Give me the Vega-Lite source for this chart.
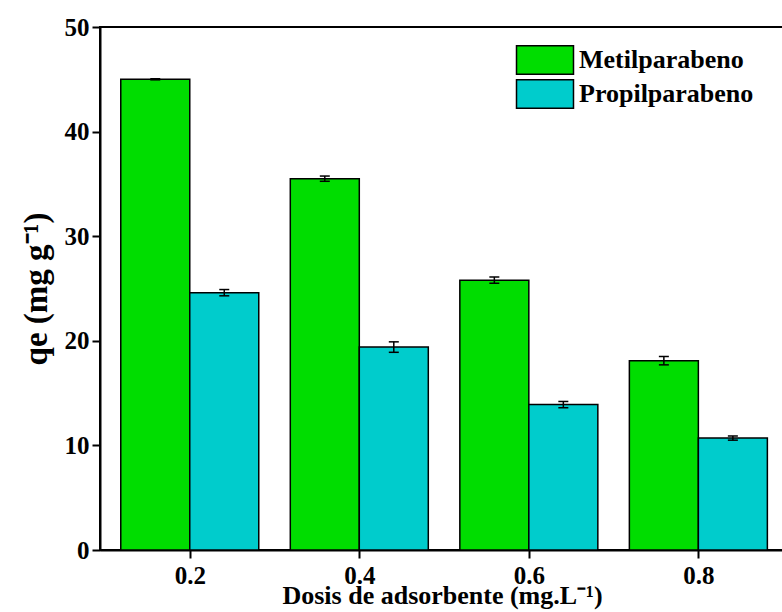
{
  "$schema": "https://vega.github.io/schema/vega-lite/v6.json",
  "width": 700,
  "height": 523,
  "autosize": {"type": "none"},
  "padding": {"left": 100, "top": 27, "right": 0, "bottom": 62},
  "background": "white",
  "config": {
    "font": "Liberation Serif",
    "view": {"stroke": "black", "strokeWidth": 2},
    "axis": {
      "grid": false,
      "domainColor": "black",
      "domainWidth": 2,
      "tickColor": "black",
      "tickWidth": 2,
      "tickSize": 8,
      "labelFont": "Liberation Serif",
      "labelFontSize": 25,
      "labelFontWeight": "bold",
      "labelColor": "black",
      "titleFont": "Liberation Serif",
      "titleFontWeight": "bold",
      "titleColor": "black"
    }
  },
  "data": {
    "values": [
      {"dosis": 0.2, "serie": "Metilparabeno", "qe": 45.0, "err": 0.05},
      {"dosis": 0.4, "serie": "Metilparabeno", "qe": 35.5, "err": 0.25},
      {"dosis": 0.6, "serie": "Metilparabeno", "qe": 25.8, "err": 0.3},
      {"dosis": 0.8, "serie": "Metilparabeno", "qe": 18.1, "err": 0.4},
      {"dosis": 0.2, "serie": "Propilparabeno", "qe": 24.6, "err": 0.3},
      {"dosis": 0.4, "serie": "Propilparabeno", "qe": 19.4, "err": 0.5},
      {"dosis": 0.6, "serie": "Propilparabeno", "qe": 13.9, "err": 0.3},
      {"dosis": 0.8, "serie": "Propilparabeno", "qe": 10.7, "err": 0.2}
    ]
  },
  "transform": [
    {"calculate": "datum.qe - datum.err", "as": "lo"},
    {"calculate": "datum.qe + datum.err", "as": "hi"}
  ],
  "encoding": {
    "x": {
      "field": "dosis",
      "type": "quantitative",
      "scale": {"domain": [0.1, 0.914], "nice": false, "zero": false},
      "axis": {
        "values": [0.2, 0.4, 0.6, 0.8],
        "format": ".1f",
        "labelPadding": 5,
        "title": "Dosis de adsorbente (mg.L⁻¹)",
        "titleFontSize": 26,
        "titlePadding": -6,
        "titleX": 342
      }
    },
    "y": {
      "field": "qe",
      "type": "quantitative",
      "scale": {"domain": [0, 50], "nice": false},
      "axis": {
        "values": [0, 10, 20, 30, 40, 50],
        "format": "d",
        "labelPadding": 3,
        "title": "qe (mg g⁻¹)",
        "titleFontSize": 33,
        "titlePadding": 11
      }
    }
  },
  "layer": [
    {
      "transform": [{"filter": "datum.serie === 'Metilparabeno'"}],
      "mark": {"type": "bar", "width": 69, "xOffset": -34.5, "stroke": "black", "strokeWidth": 1.5},
      "encoding": {
        "color": {
          "field": "serie",
          "type": "nominal",
          "scale": {"domain": ["Metilparabeno", "Propilparabeno"], "range": ["#00DD00", "#00CCCC"]},
          "legend": {
            "orient": "none",
            "legendX": 430,
            "legendY": 18,
            "title": null,
            "symbolType": "M-2,-1H2V1H-2Z",
            "symbolSize": 812,
            "symbolStrokeColor": "black",
            "symbolStrokeWidth": 1.5,
            "labelFont": "Liberation Serif",
            "labelFontSize": 26,
            "labelFontWeight": "bold",
            "labelColor": "black",
            "labelLimit": 400,
            "labelOffset": 19,
            "rowPadding": -2
          }
        }
      }
    },
    {
      "transform": [{"filter": "datum.serie === 'Propilparabeno'"}],
      "mark": {"type": "bar", "width": 69, "xOffset": 34.5, "stroke": "black", "strokeWidth": 1.5},
      "encoding": {
        "color": {"field": "serie", "type": "nominal"}
      }
    },
    {
      "transform": [{"filter": "datum.serie === 'Metilparabeno'"}],
      "mark": {"type": "rule", "xOffset": -34.5, "color": "black", "strokeWidth": 1.5},
      "encoding": {"y": {"field": "lo", "type": "quantitative"}, "y2": {"field": "hi"}}
    },
    {
      "transform": [{"filter": "datum.serie === 'Propilparabeno'"}],
      "mark": {"type": "rule", "xOffset": 34.5, "color": "black", "strokeWidth": 1.5},
      "encoding": {"y": {"field": "lo", "type": "quantitative"}, "y2": {"field": "hi"}}
    },
    {
      "transform": [{"filter": "datum.serie === 'Metilparabeno'"}],
      "mark": {"type": "tick", "orient": "horizontal", "size": 10, "thickness": 1.5, "xOffset": -34.5, "color": "black", "opacity": 1},
      "encoding": {"y": {"field": "lo", "type": "quantitative"}}
    },
    {
      "transform": [{"filter": "datum.serie === 'Metilparabeno'"}],
      "mark": {"type": "tick", "orient": "horizontal", "size": 10, "thickness": 1.5, "xOffset": -34.5, "color": "black", "opacity": 1},
      "encoding": {"y": {"field": "hi", "type": "quantitative"}}
    },
    {
      "transform": [{"filter": "datum.serie === 'Propilparabeno'"}],
      "mark": {"type": "tick", "orient": "horizontal", "size": 10, "thickness": 1.5, "xOffset": 34.5, "color": "black", "opacity": 1},
      "encoding": {"y": {"field": "lo", "type": "quantitative"}}
    },
    {
      "transform": [{"filter": "datum.serie === 'Propilparabeno'"}],
      "mark": {"type": "tick", "orient": "horizontal", "size": 10, "thickness": 1.5, "xOffset": 34.5, "color": "black", "opacity": 1},
      "encoding": {"y": {"field": "hi", "type": "quantitative"}}
    }
  ]
}
